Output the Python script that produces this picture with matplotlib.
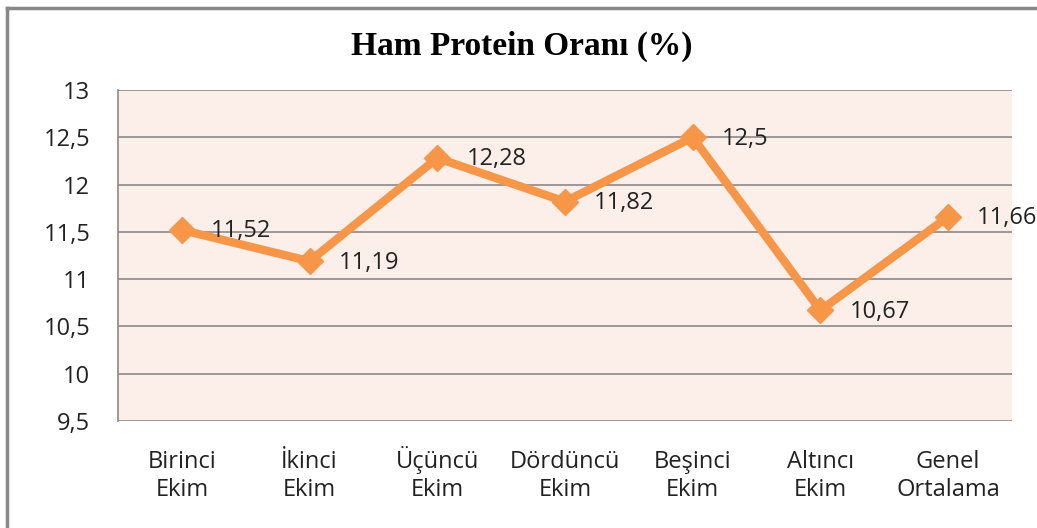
import matplotlib
matplotlib.use("Agg")
import matplotlib.pyplot as plt
from matplotlib.lines import Line2D

# === Daten ===
kategorien = ["Birinci\nEkim", "İkinci\nEkim", "Üçüncü\nEkim", "Dördüncü\nEkim",
              "Beşinci\nEkim", "Altıncı\nEkim", "Genel\nOrtalama"]
werte = [11.52, 11.19, 12.28, 11.82, 12.5, 10.67, 11.66]
labels = ["11,52", "11,19", "12,28", "11,82", "12,5", "10,67", "11,66"]
y_ticks = [9.5, 10, 10.5, 11, 11.5, 12, 12.5, 13]
y_ticklabels = ["9,5", "10", "10,5", "11", "11,5", "12", "12,5", "13"]

orange = "#F79646"
fnt = ["Open Sans", "DejaVu Sans"]
fs = 17

fig = plt.figure(figsize=(10.37, 5.28), dpi=100)
ax = fig.add_axes([118/1037, 1 - 421/528, (1012 - 118)/1037, (421 - 90)/528])
ax.set_facecolor("#FCEEE9")

x = [i + 0.5 for i in range(len(werte))]
ax.plot(x, werte, color=orange, linewidth=6, marker="D", markersize=13,
        markeredgecolor=orange, markerfacecolor=orange, zorder=3, solid_joinstyle="miter")

for xi, yi, lab in zip(x, werte, labels):
    ax.annotate(lab, (xi, yi), xytext=(21, -1), textcoords="offset points",
                va="center", ha="left", fontsize=fs, family=fnt, color="#222222", zorder=4)

ax.set_xlim(0, len(werte))
ax.set_ylim(9.5, 13)
ax.set_yticks(y_ticks)
ax.set_yticklabels(y_ticklabels, family=fnt, fontsize=fs, color="#222222")
ax.set_xticks(x)
ax.set_xticklabels(kategorien, family=fnt, fontsize=fs, color="#222222",
                   linespacing=1.2, va="baseline")
ax.tick_params(axis="both", length=0)
ax.tick_params(axis="y", pad=20)
ax.tick_params(axis="x", pad=54)
ax.yaxis.grid(True, color="#8A8A8A", linewidth=1.2)
ax.set_axisbelow(True)
for s in ["right", "bottom", "top"]:
    ax.spines[s].set_visible(False)
ax.spines["left"].set_color("#8A8A8A")
ax.spines["left"].set_linewidth(1.2)

fig.text(522/1037, 1 - 46/528, "Ham Protein Oranı (%)", ha="center", va="center",
         fontsize=24, fontweight="bold", family="Liberation Serif")

# Rahmen
fig.add_artist(Line2D([7/1037, 7/1037], [0, 1 - 8/528], color="#888888", linewidth=2.5,
                      transform=fig.transFigure))
fig.add_artist(Line2D([7/1037, 1], [1 - 8/528, 1 - 8/528], color="#888888", linewidth=2.5,
                      transform=fig.transFigure))

fig.savefig("out.png", dpi=100)
